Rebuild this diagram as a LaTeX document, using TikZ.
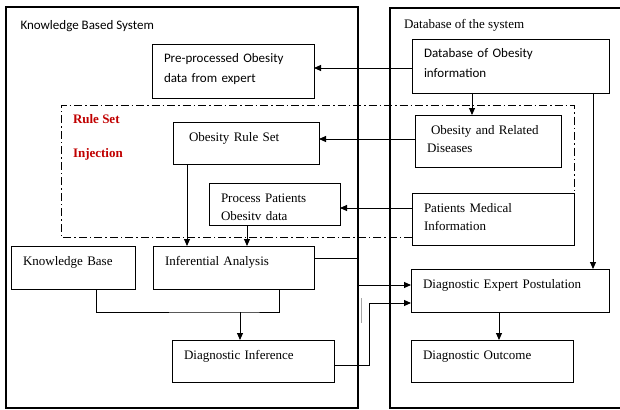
\documentclass[tikz,border=0pt]{standalone}
\usepackage{fontspec}
\setmainfont{Liberation Serif}
\newfontfamily\calibfont{Carlito}
\usetikzlibrary{arrows.meta}
\definecolor{rsred}{HTML}{C00000}
\begin{document}
\begin{tikzpicture}[x=1pt,y=-1pt,
  frame/.style={draw, line width=2pt, inner sep=0pt, outer sep=0pt, anchor=north west},
  box/.style={draw, line width=0.9pt, inner xsep=12pt, inner ysep=0pt, outer sep=0pt,
    align=left, anchor=north west, text height=19pt, font=\fontsize{13}{18.5}\selectfont},
  sbox/.style={box, font=\calibfont\fontsize{13}{19.5}\selectfont},
  arr/.style={draw, line width=0.9pt, -{Triangle[length=7pt,width=6pt]}},
  wire/.style={draw, line width=0.9pt},
  rsline/.style={draw, line width=0.9pt, dash pattern=on 8pt off 3pt on 1.5pt off 3pt},
  title/.style={anchor=base west, inner sep=0pt, outer sep=0pt},
  ]
\useasboundingbox (0,0) rectangle (620,409);

% the two subsystems
\node[frame, minimum width=352pt, minimum height=401pt] (kbs) at (6,7) {};
\node[frame, minimum width=240pt, minimum height=400pt] (dbs) at (390,8) {};
\node[title, font=\calibfont\fontsize{13}{16}\selectfont] (kbs-t) at (20.5,29.5) {Knowledge Based System};
\node[title, font=\fontsize{13}{16}\selectfont] (dbs-t) at (404,28.5) {Database of the system};

% rule set injection region
\node[title, font=\bfseries\fontsize{13}{16}\selectfont, text=rsred] (rs1) at (73,123.5) {Rule Set};
\node[title, font=\bfseries\fontsize{13}{16}\selectfont, text=rsred] (rs2) at (73,157) {Injection};

% blocks
\node[sbox, text width=138pt, text depth=35pt] (pre) at (152,44) {Pre-processed Obesity\\data from expert};
\node[sbox, text width=173pt, text depth=35pt] (dbo) at (412,39) {Database of Obesity\\information};
\node[box, text width=122pt, text depth=33pt] (ord) at (415,115) {\hspace*{4pt}Obesity and Related\\Diseases};
\node[box, text width=122pt, text depth=23pt] (ors) at (173,122) {\hspace*{4pt}Obesity Rule Set};
\node[box, text width=138pt, text depth=33pt] (pmi) at (412,193) {Patients Medical\\Information};
\node[box, text width=107pt, text depth=23pt] (ppo) at (209,183) {Process Patients\\Obesitv data};
\node[box, text width=137pt, text depth=24pt] (ia) at (153,246) {Inferential Analysis};
\node[box, text width=100pt, text depth=24pt] (kb) at (11,246) {Knowledge Base};
\node[box, text width=138pt, text depth=23pt] (di) at (172,340) {Diagnostic Inference};
\node[box, text width=174pt, text depth=24pt] (dep) at (411,269) {Diagnostic Expert Postulation};
\node[box, text width=138pt, text depth=23pt] (dout) at (411,340) {Diagnostic Outcome};

% dash-dot boundary of the injection region
\coordinate (rs-nw) at (61,105);
\coordinate (rs-se) at (574,237);
\draw[rsline] (pmi.west |- rs-se) -| (rs-nw) -| (pmi.north east);

% connectors
\coordinate (a1) at ([yshift=-2pt]dbo.west);
\draw[arr] (a1) -- (a1 -| pre.east);
\coordinate (a2) at ([xshift=60pt]dbo.south west);
\draw[arr] (a2) -- (a2 |- ord.north);
\coordinate (a3) at ([yshift=2pt]ord.west);
\draw[arr] (a3) -- (a3 -| ors.east);
\coordinate (a4) at ([yshift=-4pt]ppo.east);
\draw[arr] (a4 -| pmi.west) -- (a4);
\coordinate (a5) at ([xshift=14pt]ors.south west);
\draw[arr] (a5) -- (a5 |- ia.north);
\coordinate (a6) at ([xshift=38pt]ppo.south west);
\draw[arr] (a6) -- (a6 |- ia.north);
\coordinate (jn) at (240,312);
\draw[wire] ([xshift=85pt]kb.south west) |- (jn) -| ([xshift=126pt]ia.south west);
\draw[arr] (jn) -- (jn |- di.north);
\coordinate (a7) at ([yshift=-12pt]ia.north east);
\draw[wire] (a7) -- (a7 -| kbs.east);
\coordinate (a8) at ([yshift=5.5pt]dep.west);
\draw[arr] (a8 -| kbs.east) -- (a8);
\coordinate (a9) at ([yshift=-4pt]di.east);
\coordinate (a10) at ([yshift=-12.5pt]dep.west);
\draw[arr] (a9) -- ++(35,0) |- (a10);
\coordinate (a11) at ([xshift=-16pt]dbo.south east);
\draw[arr] (a11) -- (a11 |- dep.north);
\coordinate (a12) at ([xshift=88pt]dep.south west);
\draw[arr] (a12) -- (a12 |- dout.north);
\draw[gray!70, line width=0.9pt] (361,298) -- (361,323);
\end{tikzpicture}
\end{document}
